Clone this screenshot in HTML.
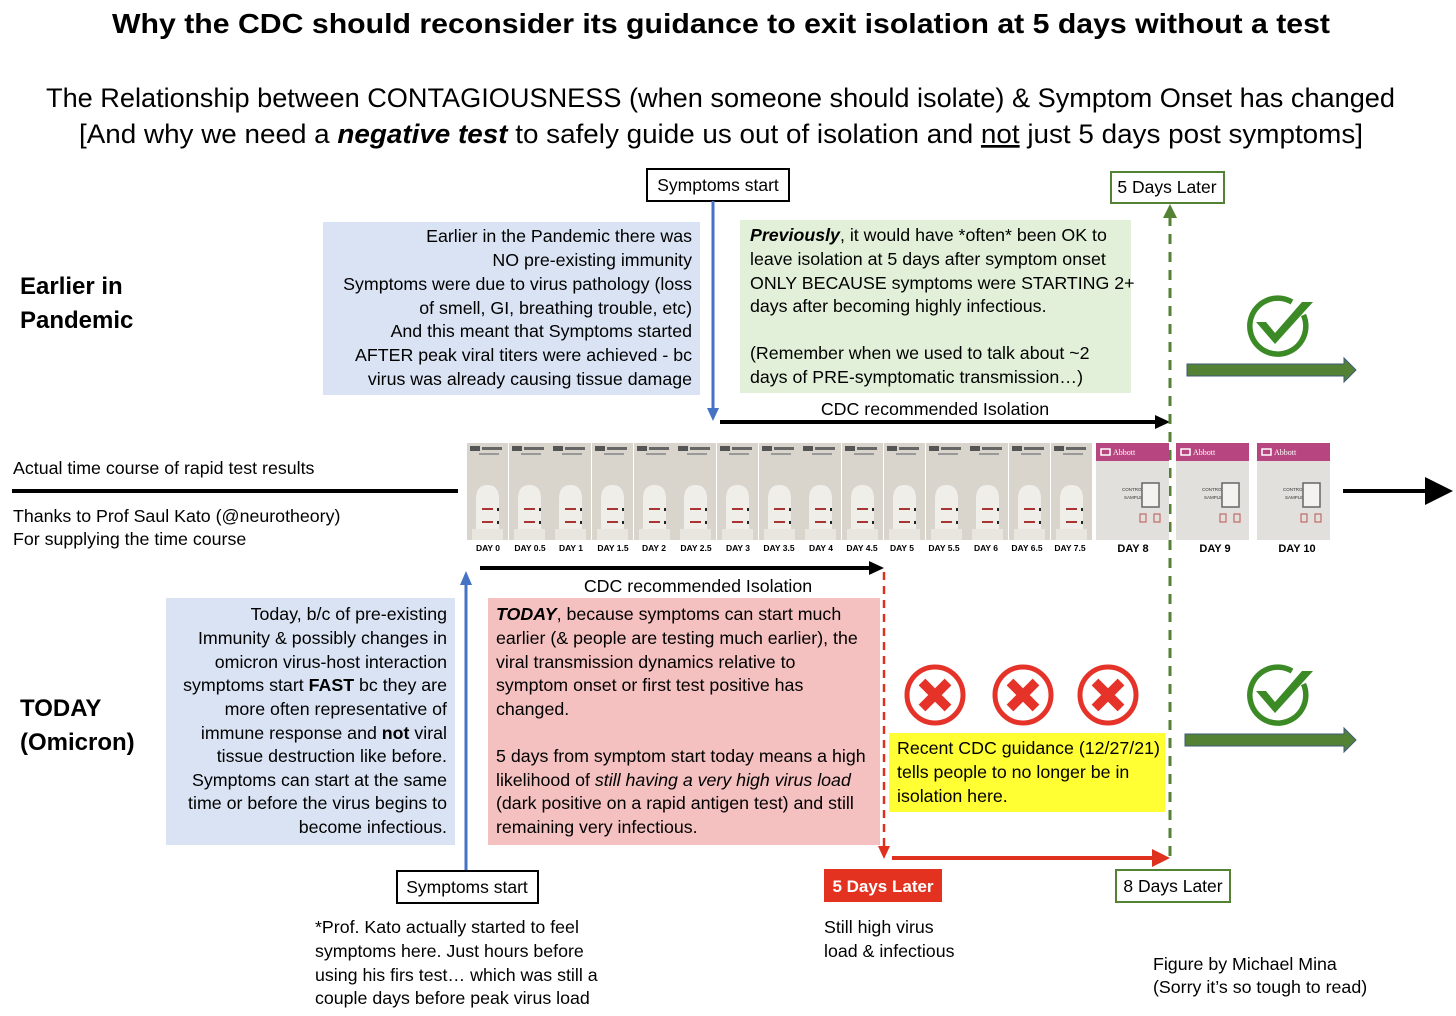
<!DOCTYPE html>
<html><head><meta charset="utf-8"><style>
html,body{margin:0;padding:0;background:#fff;}
svg{display:block;font-family:"Liberation Sans",sans-serif;}
</style></head><body>
<svg width="1456" height="1016" viewBox="0 0 1456 1016" xmlns="http://www.w3.org/2000/svg">
<defs>
<g id="chk">
<path d="M 25.5 -11 A 28 28 0 1 1 14 -24" fill="none" stroke="#3b8a26" stroke-width="5.5"/>
<polygon points="-22,-4 -12,-4 -3,7 24,-24 35,-24 -3,18" fill="#3b8a26"/>
</g>
<g id="xx">
<circle r="28" fill="#fff" stroke="#e5332a" stroke-width="5"/>
<path d="M -13 -13 L 13 13 M 13 -13 L -13 13" stroke="#e5332a" stroke-width="9.5"/>
</g>
<g id="strip">
<rect x="0" y="0" width="41" height="97" fill="#d9d5cd"/>
<rect x="3" y="3" width="10" height="5" fill="#555"/>
<rect x="15" y="4" width="20" height="3" fill="#666"/>
<rect x="12" y="10" width="20" height="2" fill="#999"/>
<path d="M 9 88 L 9 56 Q 9 42 20.5 42 Q 32 42 32 56 L 32 88 Z" fill="#f0eee9"/>
<rect x="5" y="86" width="31" height="11" fill="#e9e6e0"/>
<rect x="15" y="65" width="11" height="2" fill="#a33"/>
<rect x="15" y="78" width="11" height="2" fill="#a33"/>
<rect x="30" y="65" width="2" height="3" fill="#222"/>
<rect x="30" y="78" width="2" height="3" fill="#222"/>
</g>
<g id="big">
<rect x="0" y="0" width="73" height="97" fill="#e2e0dc"/>
<rect x="0" y="0" width="73" height="18" fill="#b7457f"/>
<rect x="5" y="6" width="9" height="6" fill="none" stroke="#fff" stroke-width="1.5"/>
<text x="17" y="12" font-size="8" font-family="Liberation Serif" fill="#fff">Abbott</text>
<text x="26" y="48" font-size="4.5" fill="#333">CONTROL</text>
<text x="28" y="56" font-size="4.5" fill="#333">SAMPLE</text>
<rect x="46" y="40" width="17" height="24" fill="#f4f2ee" stroke="#666" stroke-width="1.5"/>
<rect x="44" y="71" width="6" height="8" fill="none" stroke="#b55" stroke-width="1"/>
<rect x="58" y="71" width="6" height="8" fill="none" stroke="#b55" stroke-width="1"/>
</g>
</defs>

<text x="112" y="33" font-size="28" font-weight="bold" textLength="1218" lengthAdjust="spacingAndGlyphs">Why the CDC should reconsider its guidance to exit isolation at 5 days without a test</text>
<text x="46" y="107" font-size="27" textLength="1349" lengthAdjust="spacingAndGlyphs">The Relationship between CONTAGIOUSNESS (when someone should isolate) &amp; Symptom Onset has changed</text>
<text x="79" y="143" font-size="27" textLength="1284" lengthAdjust="spacingAndGlyphs">[And why we need a <tspan font-weight="bold" font-style="italic">negative test</tspan> to safely guide us out of isolation and <tspan text-decoration="underline">not</tspan> just 5 days post symptoms]</text>

<text x="20" y="294" font-size="24" font-weight="bold">Earlier in</text>
<text x="20" y="328" font-size="24" font-weight="bold">Pandemic</text>
<text x="20" y="716" font-size="24" font-weight="bold">TODAY</text>
<text x="20" y="750" font-size="24" font-weight="bold">(Omicron)</text>

<rect x="647" y="169" width="142" height="32" fill="#fff" stroke="#000" stroke-width="2"/>
<text x="718" y="191" font-size="17.5" text-anchor="middle">Symptoms start</text>
<rect x="1111" y="172" width="113" height="31" fill="#fff" stroke="#548235" stroke-width="2"/>
<text x="1167" y="193" font-size="17.5" text-anchor="middle">5 Days Later</text>

<rect x="323" y="222" width="377" height="173" fill="#dae3f3"/>
<g font-size="17.8" text-anchor="end">
<text x="692" y="242">Earlier in the Pandemic there was</text>
<text x="692" y="266">NO pre-existing immunity</text>
<text x="692" y="290">Symptoms were due to virus pathology (loss</text>
<text x="692" y="314">of smell, GI, breathing trouble, etc)</text>
<text x="692" y="337">And this meant that Symptoms started</text>
<text x="692" y="361">AFTER peak viral titers were achieved - bc</text>
<text x="692" y="385">virus was already causing tissue damage</text>
</g>

<rect x="740" y="220" width="391" height="173" fill="#e2f0d9"/>
<g font-size="17.8">
<text x="750" y="241"><tspan font-weight="bold" font-style="italic">Previously</tspan>, it would have *often* been OK to</text>
<text x="750" y="265">leave isolation at 5 days after symptom onset</text>
<text x="750" y="289">ONLY BECAUSE symptoms were STARTING 2+</text>
<text x="750" y="312">days after becoming highly infectious.</text>
<text x="750" y="359">(Remember when we used to talk about ~2</text>
<text x="750" y="383">days of PRE-symptomatic transmission…)</text>
</g>

<line x1="713" y1="201" x2="713" y2="410" stroke="#4472c4" stroke-width="3"/>
<polygon points="707,408 719,408 713,421" fill="#4472c4"/>

<text x="935" y="415" font-size="17.8" text-anchor="middle">CDC recommended Isolation</text>
<line x1="720" y1="422" x2="1158" y2="422" stroke="#000" stroke-width="4"/>
<polygon points="1155,415 1170,422 1155,429" fill="#000"/>

<line x1="1170" y1="216" x2="1170" y2="856" stroke="#548235" stroke-width="3" stroke-dasharray="10,8"/>
<polygon points="1163,218 1177,218 1170,204" fill="#548235"/>

<use href="#chk" x="1278" y="326"/>
<use href="#chk" x="1278" y="695"/>
<polygon points="1187,364 1344,364 1344,358 1356,370 1344,382 1344,376 1187,376" fill="#548235" stroke="#3d5a7a" stroke-width="1"/>
<polygon points="1185,734 1344,734 1344,728 1356,740 1344,752 1344,746 1185,746" fill="#548235" stroke="#3d5a7a" stroke-width="1"/>

<text x="13" y="474" font-size="17.8">Actual time course of rapid test results</text>
<line x1="12" y1="491" x2="458" y2="491" stroke="#000" stroke-width="4"/>
<text x="13" y="522" font-size="17.8">Thanks to Prof Saul Kato (@neurotheory)</text>
<text x="13" y="545" font-size="17.8">For supplying the time course</text>
<line x1="1343" y1="491" x2="1428" y2="491" stroke="#000" stroke-width="4"/>
<polygon points="1425,477 1453,491 1425,505" fill="#000"/>

<use href="#strip" x="467" y="443"/>
<use href="#strip" x="509" y="443"/>
<use href="#strip" x="550" y="443"/>
<use href="#strip" x="592" y="443"/>
<use href="#strip" x="634" y="443"/>
<use href="#strip" x="675" y="443"/>
<use href="#strip" x="717" y="443"/>
<use href="#strip" x="759" y="443"/>
<use href="#strip" x="800" y="443"/>
<use href="#strip" x="842" y="443"/>
<use href="#strip" x="884" y="443"/>
<use href="#strip" x="926" y="443"/>
<use href="#strip" x="967" y="443"/>
<use href="#strip" x="1009" y="443"/>
<use href="#strip" x="1051" y="443"/>
<use href="#big" x="1096" y="443"/>
<use href="#big" x="1176" y="443"/>
<use href="#big" x="1257" y="443"/>
<g font-size="8.5" font-weight="bold" text-anchor="middle">
<text x="488" y="551">DAY 0</text>
<text x="530" y="551">DAY 0.5</text>
<text x="571" y="551">DAY 1</text>
<text x="613" y="551">DAY 1.5</text>
<text x="654" y="551">DAY 2</text>
<text x="696" y="551">DAY 2.5</text>
<text x="738" y="551">DAY 3</text>
<text x="779" y="551">DAY 3.5</text>
<text x="821" y="551">DAY 4</text>
<text x="862" y="551">DAY 4.5</text>
<text x="902" y="551">DAY 5</text>
<text x="944" y="551">DAY 5.5</text>
<text x="986" y="551">DAY 6</text>
<text x="1027" y="551">DAY 6.5</text>
<text x="1070" y="551">DAY 7.5</text>
</g>
<g font-size="11" font-weight="bold" text-anchor="middle">
<text x="1133" y="552">DAY 8</text>
<text x="1215" y="552">DAY 9</text>
<text x="1297" y="552">DAY 10</text>
</g>

<line x1="480" y1="568" x2="872" y2="568" stroke="#000" stroke-width="4"/>
<polygon points="869,561 884,568 869,575" fill="#000"/>
<text x="698" y="592" font-size="17.8" text-anchor="middle">CDC recommended Isolation</text>

<line x1="466" y1="583" x2="466" y2="871" stroke="#4472c4" stroke-width="3"/>
<polygon points="460,585 472,585 466,571" fill="#4472c4"/>

<rect x="166" y="598" width="289" height="247" fill="#dae3f3"/>
<g font-size="17.8" text-anchor="end">
<text x="447" y="620">Today, b/c of pre-existing</text>
<text x="447" y="644">Immunity &amp; possibly changes in</text>
<text x="447" y="668">omicron virus-host interaction</text>
<text x="447" y="691">symptoms start <tspan font-weight="bold">FAST</tspan> bc they are</text>
<text x="447" y="715">more often representative of</text>
<text x="447" y="739">immune response and <tspan font-weight="bold">not</tspan> viral</text>
<text x="447" y="762">tissue destruction like before.</text>
<text x="447" y="786">Symptoms can start at the same</text>
<text x="447" y="809">time or before the virus begins to</text>
<text x="447" y="833">become infectious.</text>
</g>

<rect x="488" y="598" width="392" height="247" fill="#f4c0c0"/>
<g font-size="17.8">
<text x="496" y="620"><tspan font-weight="bold" font-style="italic">TODAY</tspan>, because symptoms can start much</text>
<text x="496" y="644">earlier (&amp; people are testing much earlier), the</text>
<text x="496" y="668">viral transmission dynamics relative to</text>
<text x="496" y="691">symptom onset or first test positive has</text>
<text x="496" y="715">changed.</text>
<text x="496" y="762">5 days from symptom start today means a high</text>
<text x="496" y="786">likelihood of <tspan font-style="italic">still having a very high virus load</tspan></text>
<text x="496" y="809">(dark positive on a rapid antigen test) and still</text>
<text x="496" y="833">remaining very infectious.</text>
</g>

<line x1="884" y1="572" x2="884" y2="848" stroke="#e0301e" stroke-width="2.5" stroke-dasharray="8,6"/>
<polygon points="878,846 890,846 884,859" fill="#e0301e"/>

<use href="#xx" x="935" y="695"/>
<use href="#xx" x="1023" y="695"/>
<use href="#xx" x="1108" y="695"/>

<rect x="889" y="733" width="276" height="79" fill="#ffff33"/>
<g font-size="17.8">
<text x="897" y="754">Recent CDC guidance (12/27/21)</text>
<text x="897" y="778">tells people to no longer be in</text>
<text x="897" y="802">isolation here.</text>
</g>

<line x1="892" y1="858" x2="1155" y2="858" stroke="#e0301e" stroke-width="4"/>
<polygon points="1152,849 1170,858 1152,867" fill="#e0301e"/>

<rect x="397" y="871" width="141" height="32" fill="#fff" stroke="#000" stroke-width="2"/>
<text x="467" y="893" font-size="17.5" text-anchor="middle">Symptoms start</text>
<rect x="824" y="869" width="118" height="33" fill="#e3321f"/>
<text x="883" y="892" font-size="17" font-weight="bold" fill="#fff" text-anchor="middle">5 Days Later</text>
<rect x="1116" y="870" width="114" height="32" fill="#fff" stroke="#548235" stroke-width="2"/>
<text x="1173" y="892" font-size="17.5" text-anchor="middle">8 Days Later</text>

<g font-size="17.8">
<text x="315" y="933">*Prof. Kato actually started to feel</text>
<text x="315" y="957">symptoms here. Just hours before</text>
<text x="315" y="981">using his firs test… which was still a</text>
<text x="315" y="1004">couple days before peak virus load</text>
<text x="824" y="933">Still high virus</text>
<text x="824" y="957">load &amp; infectious</text>
<text x="1153" y="970">Figure by Michael Mina</text>
<text x="1153" y="993">(Sorry it’s so tough to read)</text>
</g>
</svg>
</body></html>
